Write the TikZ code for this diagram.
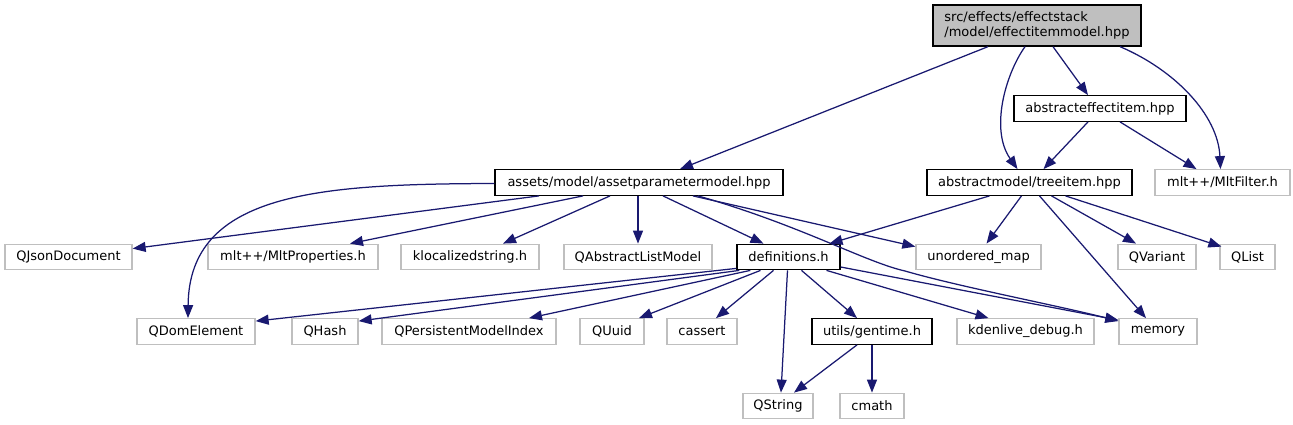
\documentclass[tikz,border=0pt]{standalone}
\usepackage{fontspec}
\setmainfont{DejaVu Sans}
\usetikzlibrary{arrows.meta,calc}
\definecolor{edgeblue}{HTML}{191970}
\definecolor{boxgray}{HTML}{BFBFBF}
\begin{document}
\begin{tikzpicture}[x=1pt,y=-1pt,
  every node/.style={font=\fontsize{13}{15}\selectfont, inner sep=0pt, text=black},
  docbox/.style={draw=black, line width=1.3pt, fill=white, minimum height=25.5pt},
  extbox/.style={draw=boxgray, line width=1.3pt, fill=white, minimum height=25.5pt},
  dep/.style={draw=edgeblue, line width=1.25pt, -{Triangle[length=13pt,width=10pt]}, fill=none}
]
\useasboundingbox (0,0) rectangle (1293,425);
% nodes
\node[draw=black, line width=1.3pt, fill=boxgray, minimum width=208pt, minimum height=41pt, align=left] (root) at (1037,25.5) {src/effects/effectstack\\/model/effectitemmodel.hpp};
\node[docbox, minimum width=172pt] (aei) at (1100,108.5) {abstracteffectitem.hpp};
\node[docbox, minimum width=288pt] (apm) at (639,182.5) {assets/model/assetparametermodel.hpp};
\node[docbox, minimum width=205pt] (ti) at (1029.5,182.5) {abstractmodel/treeitem.hpp};
\node[extbox, minimum width=135pt] (mf) at (1222.5,182.5) {mlt++/MltFilter.h};
% row 3
\node[extbox, minimum width=127pt] (qjd) at (68.5,257) {QJsonDocument};
\node[extbox, minimum width=170pt] (mp) at (293,257) {mlt++/MltProperties.h};
\node[extbox, minimum width=138pt] (kls) at (470,257) {klocalizedstring.h};
\node[extbox, minimum width=148pt] (qalm) at (638,257) {QAbstractListModel};
\node[docbox, minimum width=103pt] (def) at (788.5,257) {definitions.h};
\node[extbox, minimum width=125pt] (um) at (978.5,257) {unordered\_map};
\node[extbox, minimum width=78pt] (qv) at (1157,257) {QVariant};
\node[extbox, minimum width=55pt] (ql) at (1247.5,257) {QList};
% row 4
\node[extbox, minimum width=118pt] (qde) at (196,331.5) {QDomElement};
\node[extbox, minimum width=66pt] (qh) at (325,331.5) {QHash};
\node[extbox, minimum width=174pt] (qpmi) at (469,331.5) {QPersistentModelIndex};
\node[extbox, minimum width=64pt] (qu) at (612,331.5) {QUuid};
\node[extbox, minimum width=70pt] (ca) at (702,331.5) {cassert};
\node[docbox, minimum width=120pt] (gt) at (872,331.5) {utils/gentime.h};
\node[extbox, minimum width=137pt] (kd) at (1025.5,331.5) {kdenlive\_debug.h};
\node[extbox, minimum width=78pt] (mem) at (1158,331.5) {memory};
% row 5
\node[extbox, minimum width=70pt] (qs) at (778,406) {QString};
\node[extbox, minimum width=64pt] (cm) at (872,406) {cmath};
% edges from root
\draw[dep] ($(root.south)+(-49,0)$) -- ($(apm.north)+(41,0)$);
\draw[dep] ($(root.south)+(-12,0)$) .. controls (1005,75) and (990,130) .. ($(ti.north)+(-12,0)$);
\draw[dep] ($(root.south)+(16,0)$) -- ($(aei.north)+(-12,0)$);
\draw[dep] ($(root.south)+(83,0)$) .. controls (1175,70) and (1218,115) .. ($(mf.north)+(-2,0)$);
% abstracteffectitem
\draw[dep] ($(aei.south)+(-12,0)$) -- ($(ti.north)+(14,0)$);
\draw[dep] ($(aei.south)+(20,0)$) -- ($(mf.north)+(-26,0)$);
% assetparametermodel
\draw[dep] ($(apm.west)+(0,1)$) .. controls (320,184) and (189,192) .. ($(qde.north)+(-8,0)$);
\draw[dep] ($(apm.south)+(-100,0)$) -- ($(qjd.north east)+(0,5)$);
\draw[dep] ($(apm.south)+(-56,0)$) -- ($(mp.north)+(57,0)$);
\draw[dep] ($(apm.south)+(-29,0)$) -- ($(kls.north)+(33,0)$);
\draw[dep] ($(apm.south)+(-1,0)$) -- (qalm.north);
\draw[dep] ($(apm.south)+(24,0)$) -- ($(def.north)+(-25,0)$);
\draw[dep] ($(apm.south)+(54,0)$) -- ($(um.north west)+(0,3)$);
\draw[dep] ($(apm.south)+(59,0)$) .. controls (800,225) and (865,262) .. (905,271) .. controls (960,287) and (1060,306) .. ($(mem.north west)+(0,3)$);
% treeitem
\draw[dep] ($(ti.south)+(-40,0)$) -- ($(def.north)+(41,0)$);
\draw[dep] ($(ti.south)+(-8,0)$) -- ($(um.north)+(8,0)$);
\draw[dep] ($(ti.south)+(10,0)$) -- ($(mem.north)+(-12,0)$);
\draw[dep] ($(ti.south)+(22,0)$) -- ($(qv.north)+(-21,0)$);
\draw[dep] ($(ti.south)+(36,0)$) -- ($(ql.north west)+(2,3)$);
% definitions
\draw[dep] ($(def.south west)+(0,-2)$) -- ($(qde.north east)+(0,3)$);
\draw[dep] ($(def.south west)+(3,0)$) -- ($(qh.north east)+(0,3)$);
\draw[dep] ($(def.south west)+(14,0)$) -- ($(qpmi.north)+(60,0)$);
\draw[dep] ($(def.south)+(-28,0)$) -- ($(qu.north)+(27,0)$);
\draw[dep] ($(def.south)+(-15,0)$) -- ($(ca.north)+(14,0)$);
\draw[dep] ($(def.south)+(-1,0)$) -- ($(qs.north)+(3,0)$);
\draw[dep] ($(def.south)+(13,0)$) -- ($(gt.north)+(-15,0)$);
\draw[dep] ($(def.south)+(38,0)$) -- ($(kd.north)+(-37,0)$);
\draw[dep] ($(def.east)+(0,10)$) -- ($(mem.north west)+(0,2)$);
% gentime
\draw[dep] ($(gt.south)+(-15,0)$) -- ($(qs.north)+(16,0)$);
\draw[dep] (gt.south) -- (cm.north);
\end{tikzpicture}
\end{document}
